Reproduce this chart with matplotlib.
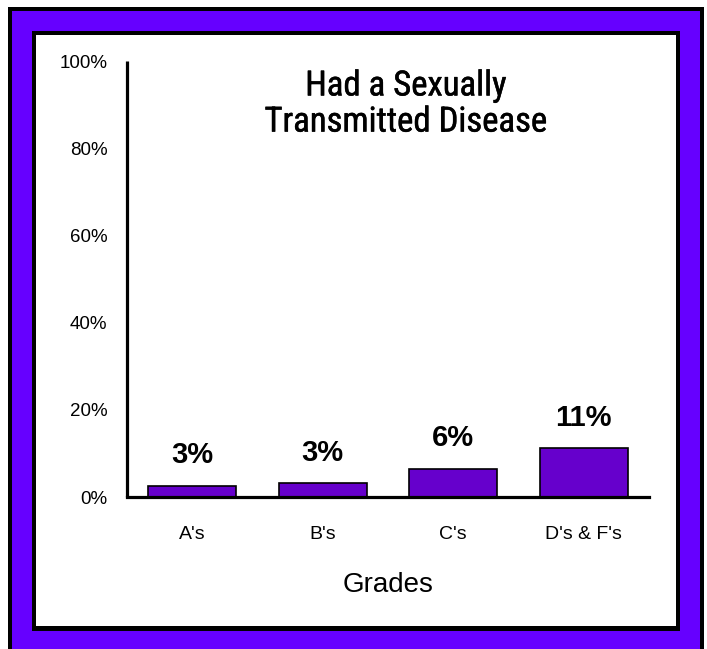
import matplotlib.pyplot as plt
import matplotlib.patheffects as pe
from matplotlib.patches import Rectangle
from matplotlib import font_manager

grades = ["A's", "B's", "C's", "D's & F's"]
pct_std = [2.6, 3.1, 6.4, 11.2]
y_ticks = [0, 20, 40, 60, 80, 100]

W, H = 707, 649
fig = plt.figure(figsize=(W / 100, H / 100), dpi=100)
fig.patch.set_facecolor('white')

# narrow face for the heading, if one is around
names = {f.name for f in font_manager.fontManager.ttflist}
narrow = [n for n in ['Liberation Sans Narrow', 'Arial Narrow', 'Roboto Condensed', 'Roboto']
          if n in names]


def frame(x0, y0, x1, y1, color):
    # pixel box (top-left origin) -> figure fraction rectangle
    fig.patches.append(Rectangle((x0 / W, 1 - y1 / H), (x1 - x0) / W, (y1 - y0) / H,
                                 transform=fig.transFigure, facecolor=color,
                                 edgecolor='none', zorder=-10))


frame(8, 7, 704, 660, 'black')
frame(12, 11, 700, 660, '#6600FF')
frame(32, 31, 680, 631, 'black')
frame(36, 35, 676, 626, 'white')

ax = fig.add_axes([127 / W, 1 - 497 / H, 522 / W, 436 / H])
ax.set_facecolor('none')

bars = ax.bar(range(len(grades)), pct_std, width=0.675, color='#6600CC',
              edgecolor='black', linewidth=1.2)
for b, v in zip(bars, pct_std):
    ax.annotate(f'{round(v)}%', (b.get_x() + b.get_width() / 2, v),
                xytext=(0, 12), textcoords='offset points', ha='center', va='bottom',
                fontsize=21, fontweight='bold', family='Liberation Sans')

ax.set_xlim(-0.5, 3.5)
ax.set_ylim(0, 100)
ax.set_yticks(y_ticks)
ax.set_yticklabels([f'{t}%' for t in y_ticks], family='Liberation Sans', fontsize=13.5)
ax.set_xticks(range(len(grades)))
ax.set_xticklabels(grades, family='Liberation Sans', fontsize=14)
ax.tick_params(axis='y', length=0, pad=14)
ax.tick_params(axis='x', length=0, pad=21)
for s in ['top', 'right']:
    ax.spines[s].set_visible(False)
for s in ['left', 'bottom']:
    ax.spines[s].set_linewidth(2.3)
ax.spines['left'].set_capstyle('butt')
ax.set_xlabel('Grades', family='Liberation Sans', fontsize=20, labelpad=21)

fig.text(406 / W, 1 - 104 / H, 'Had a Sexually\nTransmitted Disease', ha='center', va='center',
         fontsize=25, family=narrow + ['Liberation Sans'], fontstretch='condensed',
         linespacing=1.12, path_effects=[pe.withStroke(linewidth=0.35, foreground='black')])

fig.savefig('out.png', dpi=100)
